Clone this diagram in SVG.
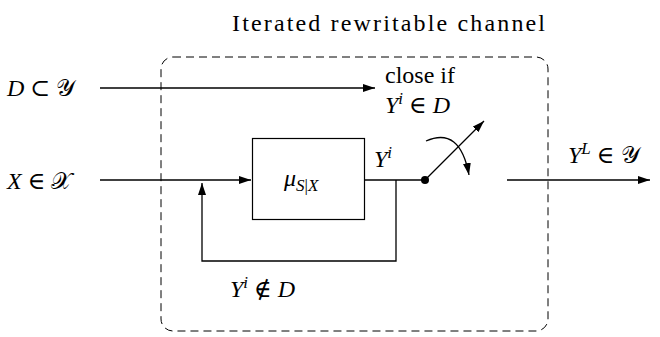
<svg xmlns="http://www.w3.org/2000/svg" width="660" height="337" viewBox="0 0 660 337">
<style>
text{font-family:'Liberation Serif','Times New Roman','DejaVu Serif',serif;fill:#000;font-size:24px}
.m{font-style:italic}
.ln{stroke:#000;stroke-width:1.3;fill:none}
.sub{font-size:17px}
</style>
<defs>
<marker id="ah" viewBox="0 0 12 8" refX="12" refY="4" markerWidth="12" markerHeight="8" markerUnits="userSpaceOnUse" orient="auto">
<path d="M0,0 L12,4 L0,8 Z" fill="#000"/>
</marker>
</defs>
<rect width="660" height="337" fill="#fff"/>
<text x="232" y="31" font-size="26" textLength="313" font-family="Liberation Serif, serif">Iterated rewritable channel</text>
<g id="channel">
<rect x="161" y="57" width="387" height="274" rx="12" fill="none" stroke="#000" stroke-width="1" stroke-dasharray="8 5"/>
</g>
<g id="inD"><text x="7" y="96"><tspan class="m">D</tspan> ⊂ <tspan>𝒴</tspan></text></g>
<g id="inX"><text x="7" y="189"><tspan class="m">X</tspan> ∈ <tspan>𝒳</tspan></text></g>
<g id="mu">
<rect x="252.5" y="138.5" width="112" height="81" fill="none" stroke="#000" stroke-width="1.2"/>
<text x="284" y="186"><tspan class="m">μ</tspan><tspan class="m sub" dy="5">S</tspan><tspan class="sub">|</tspan><tspan class="m sub">X</tspan></text>
</g>
<g id="switch">
<circle cx="425" cy="180" r="4"/>
<text x="385" y="83" font-family="Liberation Serif, serif">close if</text>
<text x="385" y="113"><tspan class="m">Y</tspan><tspan class="m sub" dy="-9">i</tspan><tspan dy="9"> ∈ </tspan><tspan class="m">D</tspan></text>
</g>
<g id="connectors">
<line class="ln" x1="100" y1="88" x2="375" y2="88" marker-end="url(#ah)"/>
<line class="ln" x1="100" y1="180" x2="251" y2="180" marker-end="url(#ah)"/>
<line class="ln" x1="364" y1="180" x2="425" y2="180"/>
<polyline class="ln" points="396,180 396,261 202,261 202,183" marker-end="url(#ah)"/>
<line class="ln" x1="425" y1="180" x2="484" y2="121" marker-end="url(#ah)"/>
<path class="ln" d="M426,141 Q460,126 469,175" marker-end="url(#ah)"/>
<line class="ln" x1="507" y1="180" x2="650" y2="180" marker-end="url(#ah)"/>
</g>
<text x="374" y="167"><tspan class="m">Y</tspan><tspan class="m sub" dy="-9">i</tspan></text>
<text x="568" y="163"><tspan class="m">Y</tspan><tspan class="m sub" dy="-9">L</tspan><tspan dy="9"> ∈ </tspan><tspan>𝒴</tspan></text>
<text x="230" y="297"><tspan class="m">Y</tspan><tspan class="m sub" dy="-9">i</tspan><tspan dy="9"> ∉ </tspan><tspan class="m">D</tspan></text>
</svg>
